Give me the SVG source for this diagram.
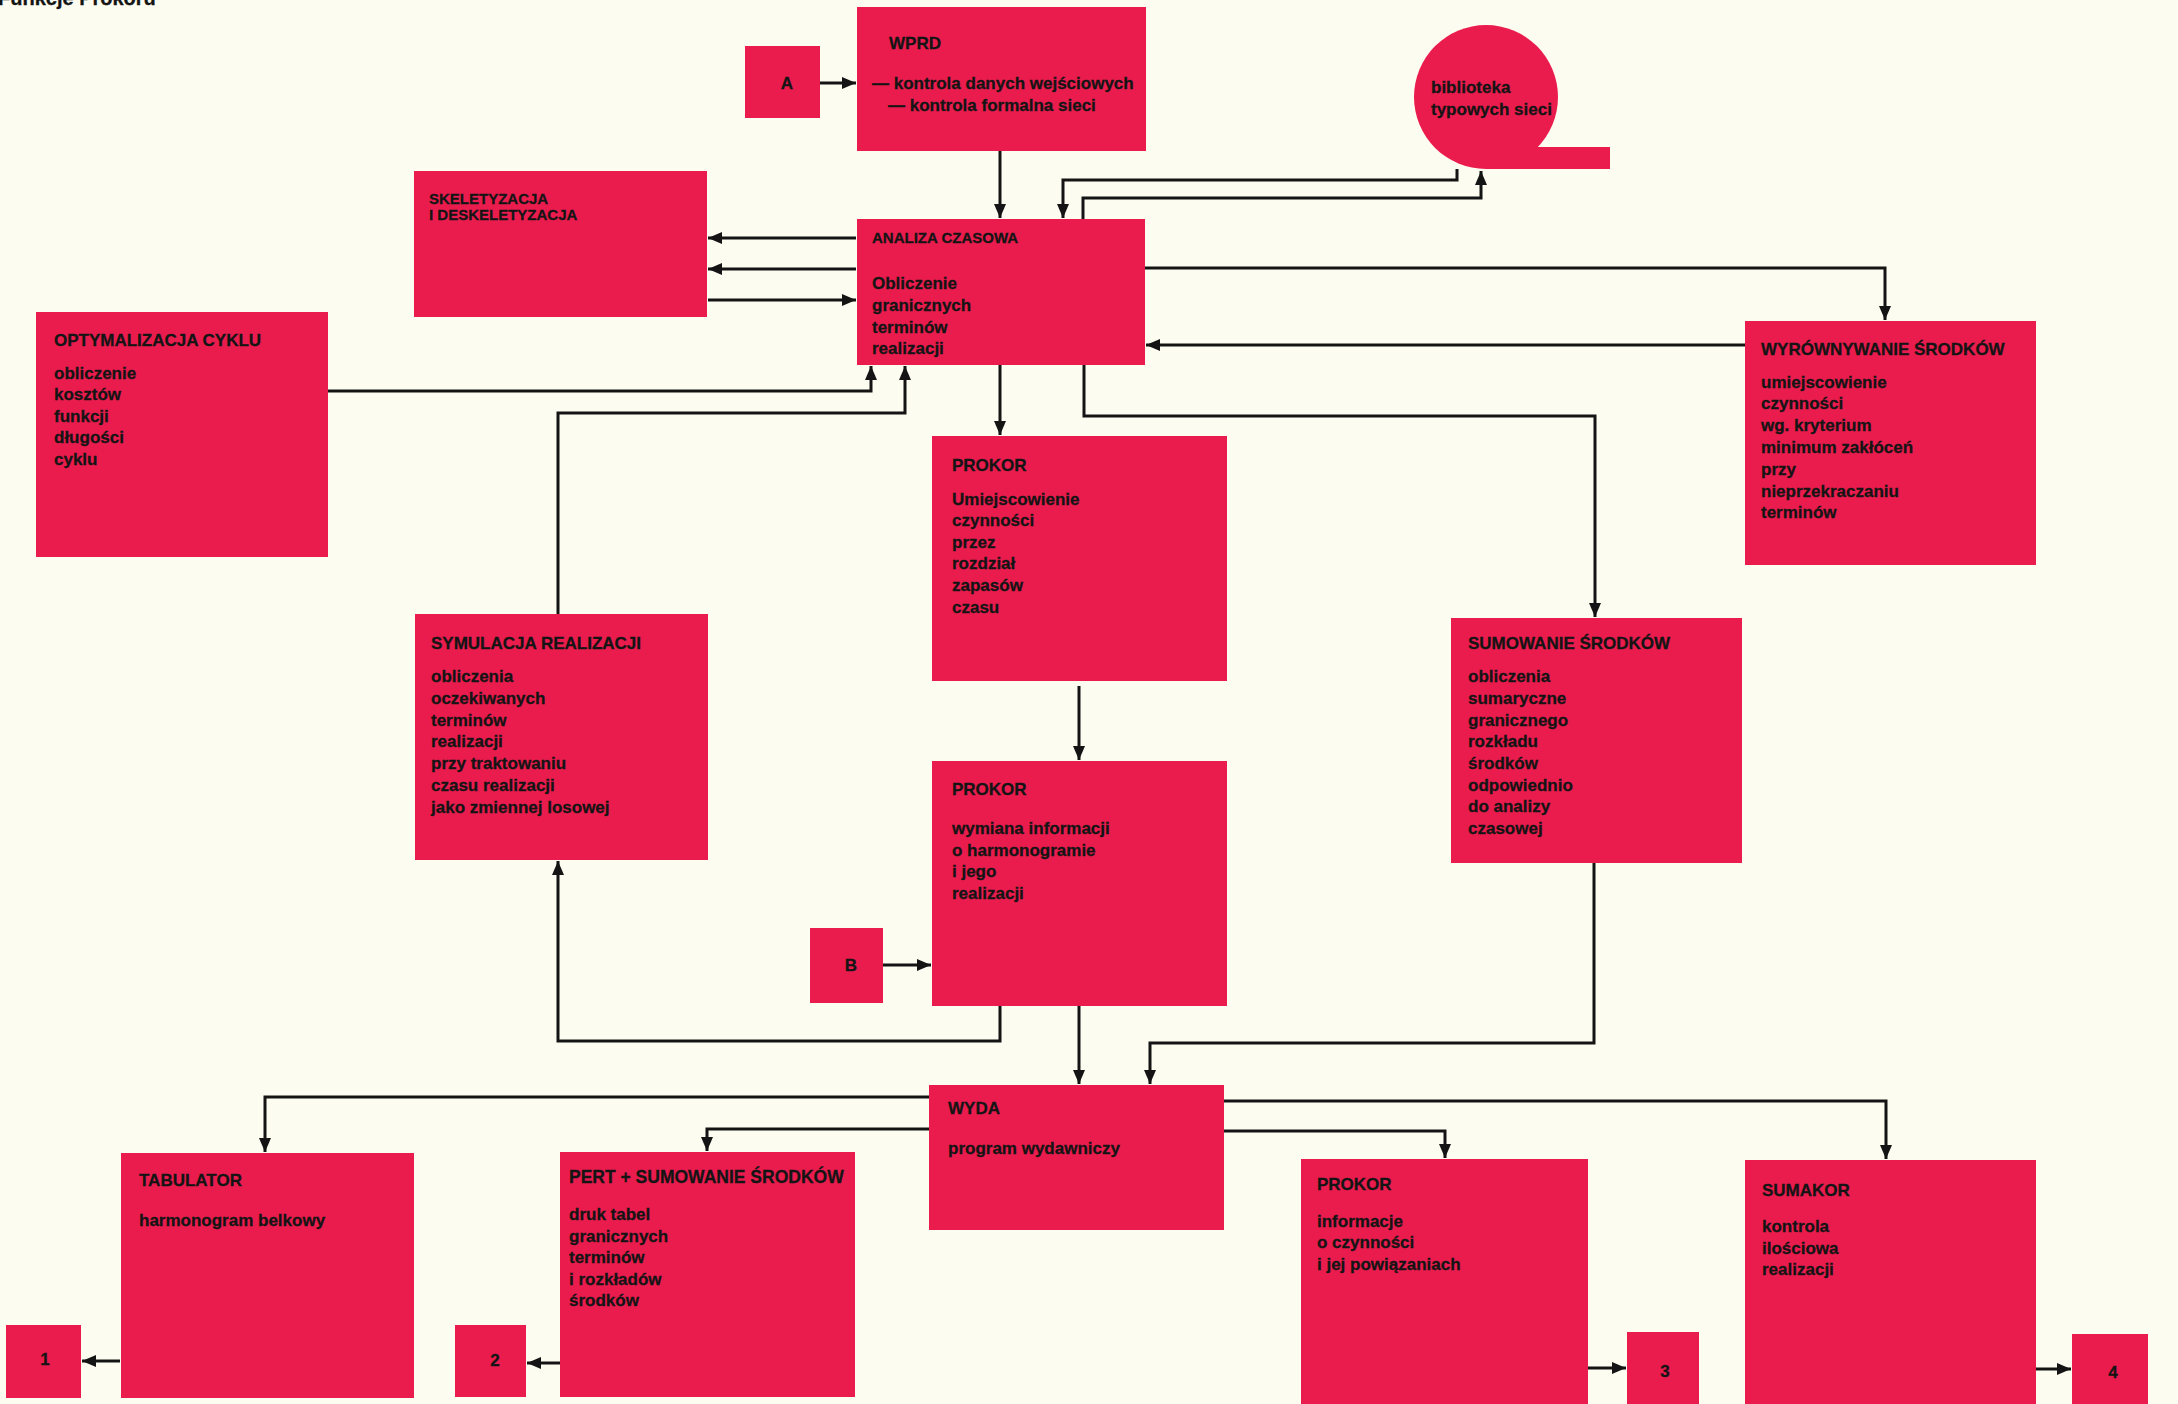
<svg xmlns="http://www.w3.org/2000/svg" width="2178" height="1404" viewBox="0 0 2178 1404">
<style>
.bg{fill:#FDFCF1}
.box{fill:#EA1C4E}
text{font-family:"Liberation Sans",Arial,sans-serif;font-weight:bold;font-size:17px;fill:#141414;stroke:#141414;stroke-width:0.3}
.h15{font-size:15px}
.c{text-anchor:middle}
.conn path{fill:none;stroke:#141414;stroke-width:3;marker-end:url(#ah)}
</style>
<defs>
<marker id="ah" markerUnits="userSpaceOnUse" markerWidth="14" markerHeight="12" refX="14" refY="6" orient="auto">
<path d="M0,0 L14,6 L0,12 z" fill="#141414"/>
</marker>
</defs>
<rect class="bg" x="0" y="0" width="2178" height="1404"/>
<text x="-2" y="5" style="font-size:20px">Funkcje Prokoru</text>

<g id="wprd"><rect class="box" x="857" y="7" width="289" height="144"/>
<text x="889" y="49">WPRD</text>
<text x="872" y="89">— kontrola danych wejściowych</text>
<text x="888" y="111">— kontrola formalna sieci</text></g>

<g id="a"><rect class="box" x="745" y="46" width="75" height="72"/><text class="c" x="787" y="89">A</text></g>

<g id="biblioteka"><circle class="box" cx="1486" cy="97" r="72"/><rect class="box" x="1486" y="147" width="124" height="22"/>
<text x="1431" y="93">biblioteka</text>
<text x="1431" y="115">typowych sieci</text></g>

<g id="skeletyzacja"><rect class="box" x="414" y="171" width="293" height="146"/>
<text class="h15" x="429" y="204">SKELETYZACJA</text>
<text class="h15" x="429" y="220">I DESKELETYZACJA</text></g>

<g id="analiza"><rect class="box" x="857" y="219" width="288" height="146"/>
<text class="h15" x="872" y="243">ANALIZA CZASOWA</text>
<text x="872" y="289">Obliczenie</text>
<text x="872" y="311">granicznych</text>
<text x="872" y="333">terminów</text>
<text x="872" y="354">realizacji</text></g>

<g id="optymalizacja"><rect class="box" x="36" y="312" width="292" height="245"/>
<text x="54" y="346">OPTYMALIZACJA CYKLU</text>
<text x="54" y="379">obliczenie</text>
<text x="54" y="400">kosztów</text>
<text x="54" y="422">funkcji</text>
<text x="54" y="443">długości</text>
<text x="54" y="465">cyklu</text></g>

<g id="wyrownywanie"><rect class="box" x="1745" y="321" width="291" height="244"/>
<text x="1761" y="355">WYRÓWNYWANIE ŚRODKÓW</text>
<text x="1761" y="388">umiejscowienie</text>
<text x="1761" y="409">czynności</text>
<text x="1761" y="431">wg. kryterium</text>
<text x="1761" y="453">minimum zakłóceń</text>
<text x="1761" y="475">przy</text>
<text x="1761" y="497">nieprzekraczaniu</text>
<text x="1761" y="518">terminów</text></g>

<g id="prokor1"><rect class="box" x="932" y="436" width="295" height="245"/>
<text x="952" y="471">PROKOR</text>
<text x="952" y="505">Umiejscowienie</text>
<text x="952" y="526">czynności</text>
<text x="952" y="548">przez</text>
<text x="952" y="569">rozdział</text>
<text x="952" y="591">zapasów</text>
<text x="952" y="613">czasu</text></g>

<g id="symulacja"><rect class="box" x="415" y="614" width="293" height="246"/>
<text x="431" y="649">SYMULACJA REALIZACJI</text>
<text x="431" y="682">obliczenia</text>
<text x="431" y="704">oczekiwanych</text>
<text x="431" y="726">terminów</text>
<text x="431" y="747">realizacji</text>
<text x="431" y="769">przy traktowaniu</text>
<text x="431" y="791">czasu realizacji</text>
<text x="431" y="813">jako zmiennej losowej</text></g>

<g id="sumowanie"><rect class="box" x="1451" y="618" width="291" height="245"/>
<text x="1468" y="649">SUMOWANIE ŚRODKÓW</text>
<text x="1468" y="682">obliczenia</text>
<text x="1468" y="704">sumaryczne</text>
<text x="1468" y="726">granicznego</text>
<text x="1468" y="747">rozkładu</text>
<text x="1468" y="769">środków</text>
<text x="1468" y="791">odpowiednio</text>
<text x="1468" y="812">do analizy</text>
<text x="1468" y="834">czasowej</text></g>

<g id="prokor2"><rect class="box" x="932" y="761" width="295" height="245"/>
<text x="952" y="795">PROKOR</text>
<text x="952" y="834">wymiana informacji</text>
<text x="952" y="856">o harmonogramie</text>
<text x="952" y="877">i jego</text>
<text x="952" y="899">realizacji</text></g>

<g id="b"><rect class="box" x="810" y="928" width="73" height="75"/><text class="c" x="851" y="971">B</text></g>

<g id="wyda"><rect class="box" x="929" y="1085" width="295" height="145"/>
<text x="948" y="1114">WYDA</text>
<text x="948" y="1154">program wydawniczy</text></g>

<g id="tabulator"><rect class="box" x="121" y="1153" width="293" height="245"/>
<text x="139" y="1186">TABULATOR</text>
<text x="139" y="1226">harmonogram belkowy</text></g>

<g id="n1"><rect class="box" x="6" y="1325" width="75" height="73"/><text class="c" x="45" y="1365">1</text></g>

<g id="pert"><rect class="box" x="560" y="1152" width="295" height="245"/>
<text x="569" y="1183" style="font-size:17.5px">PERT + SUMOWANIE ŚRODKÓW</text>
<text x="569" y="1220">druk tabel</text>
<text x="569" y="1242">granicznych</text>
<text x="569" y="1263">terminów</text>
<text x="569" y="1285">i rozkładów</text>
<text x="569" y="1306">środków</text></g>

<g id="n2"><rect class="box" x="455" y="1325" width="71" height="72"/><text class="c" x="495" y="1366">2</text></g>

<g id="prokor3"><rect class="box" x="1301" y="1159" width="287" height="245"/>
<text x="1317" y="1190">PROKOR</text>
<text x="1317" y="1227">informacje</text>
<text x="1317" y="1248">o czynności</text>
<text x="1317" y="1270">i jej powiązaniach</text></g>

<g id="n3"><rect class="box" x="1627" y="1332" width="72" height="72"/><text class="c" x="1665" y="1377">3</text></g>

<g id="sumakor"><rect class="box" x="1745" y="1160" width="291" height="244"/>
<text x="1762" y="1196">SUMAKOR</text>
<text x="1762" y="1232">kontrola</text>
<text x="1762" y="1254">ilościowa</text>
<text x="1762" y="1275">realizacji</text></g>

<g id="n4"><rect class="box" x="2072" y="1334" width="76" height="70"/><text class="c" x="2113" y="1378">4</text></g>

<g id="connectors" class="conn">
<path d="M1000,151 V218"/>
<path d="M1457,169 V180 H1063 V218"/>
<path d="M1083,219 V198 H1481 V171"/>
<path d="M856,238 H708"/>
<path d="M856,269 H708"/>
<path d="M708,300 H856"/>
<path d="M1145,268 H1885 V320"/>
<path d="M1745,345 H1146"/>
<path d="M328,391 H871 V366"/>
<path d="M558,614 V413 H905 V366"/>
<path d="M1000,365 V435"/>
<path d="M1084,365 V416 H1595 V617"/>
<path d="M1079,686 V760"/>
<path d="M1000,1006 V1041 H558 V861"/>
<path d="M1079,1006 V1084"/>
<path d="M1594,863 V1043 H1150 V1084"/>
<path d="M929,1097 H265 V1152"/>
<path d="M929,1129 H707 V1151"/>
<path d="M1224,1101 H1886 V1159"/>
<path d="M1224,1131 H1445 V1158"/>
<path d="M120,1361 H82"/>
<path d="M560,1363 H527"/>
<path d="M1588,1368 H1626"/>
<path d="M2036,1369 H2071"/>
<path d="M820,83 H856"/>
<path d="M883,965 H931"/>
</g>
</svg>
